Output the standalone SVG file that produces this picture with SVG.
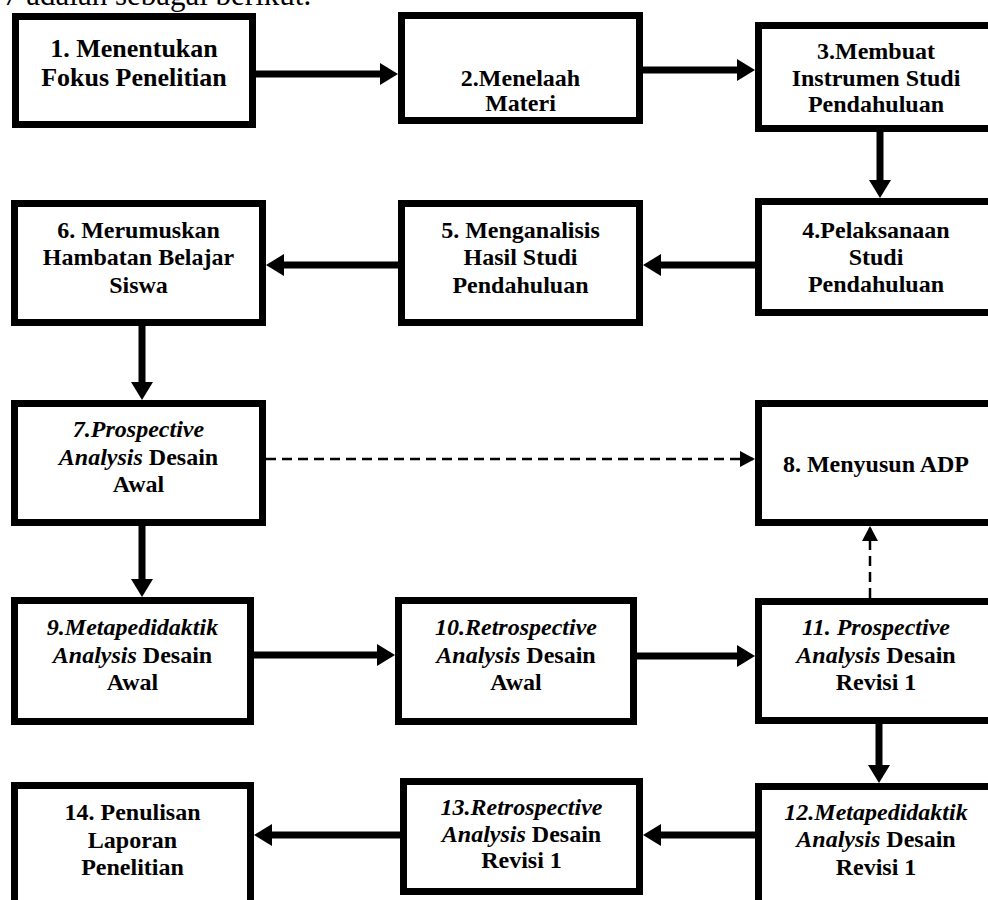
<svg xmlns="http://www.w3.org/2000/svg" width="988" height="900" viewBox="0 0 988 900">
<style>
.box{fill:#fff;stroke:#000;stroke-width:7}
.t{font-family:"Liberation Serif","Times New Roman",serif;font-weight:bold;font-size:24px;text-anchor:middle;fill:#000}
.big{font-size:26px}
.i{font-style:italic}
.body{font-family:"Liberation Serif","Times New Roman",serif;font-size:31px;fill:#000}
.c{fill:none;stroke:#000;stroke-width:7;marker-end:url(#ah)}
.d{fill:none;stroke:#000;stroke-width:2.5;stroke-dasharray:10 6;marker-end:url(#dh)}
</style>
<defs>
<marker id="ah" markerUnits="userSpaceOnUse" markerWidth="18" markerHeight="22" viewBox="0 0 18 22" refX="10" refY="11" orient="auto"><path d="M0,0 L18,11 L0,22 z" fill="#000"/></marker>
<marker id="dh" markerUnits="userSpaceOnUse" markerWidth="15" markerHeight="16" viewBox="0 0 15 16" refX="13" refY="8" orient="auto"><path d="M0,0 L15,8 L0,16 z" fill="#000"/></marker>
</defs>
<rect width="988" height="900" fill="#fff"/>
<text class="body" x="3" y="5">7 adalah sebagai berikut.</text>
<g id="connectors">
<path class="c" d="M256,74 H390"/>
<path class="c" d="M643,70 H747"/>
<path class="c" d="M880,132 V190"/>
<path class="c" d="M755,265 H651"/>
<path class="c" d="M398,265 H274"/>
<path class="c" d="M142,326 V392"/>
<path class="c" d="M142,526 V589"/>
<path class="c" d="M254,655 H387"/>
<path class="c" d="M637,656 H747"/>
<path class="c" d="M879,724 V775"/>
<path class="c" d="M755,835 H651"/>
<path class="c" d="M400,835 H262"/>
<path class="d" d="M266,459 H753"/>
<path class="d" d="M870,598 V528"/>
</g>
<g id="n1"><rect class="box" x="15.5" y="16.5" width="237" height="108"/>
<text class="t big" x="134" y="57">1. Menentukan</text><text class="t big" x="134" y="86">Fokus Penelitian</text></g>
<g id="n2"><rect class="box" x="401.5" y="15.5" width="238" height="105"/>
<text class="t" x="520.5" y="86">2.Menelaah</text><text class="t" x="520.5" y="111">Materi</text></g>
<g id="n3"><rect class="box" x="758.5" y="25.5" width="235" height="103"/>
<text class="t" x="876" y="59">3.Membuat</text><text class="t" x="876" y="86">Instrumen Studi</text><text class="t" x="876" y="112">Pendahuluan</text></g>
<g id="n4"><rect class="box" x="758.5" y="201.5" width="235" height="111"/>
<text class="t" x="876" y="238">4.Pelaksanaan</text><text class="t" x="876" y="265">Studi</text><text class="t" x="876" y="292">Pendahuluan</text></g>
<g id="n5"><rect class="box" x="401.5" y="203.5" width="238" height="119"/>
<text class="t" x="520.5" y="238">5. Menganalisis</text><text class="t" x="520.5" y="265">Hasil Studi</text><text class="t" x="520.5" y="293">Pendahuluan</text></g>
<g id="n6"><rect class="box" x="14.5" y="203.5" width="248" height="119"/>
<text class="t" x="138.5" y="238">6. Merumuskan</text><text class="t" x="138.5" y="265">Hambatan Belajar</text><text class="t" x="138.5" y="293">Siswa</text></g>
<g id="n7"><rect class="box" x="14.5" y="403.5" width="248" height="119"/>
<text class="t i" x="138.5" y="437">7.Prospective</text><text class="t" x="138.5" y="465"><tspan class="i">Analysis</tspan> Desain</text><text class="t" x="138.5" y="492">Awal</text></g>
<g id="n8"><rect class="box" x="758.5" y="403.5" width="235" height="119"/>
<text class="t" x="876" y="472">8. Menyusun ADP</text></g>
<g id="n9"><rect class="box" x="14.5" y="600.5" width="236" height="121"/>
<text class="t i" x="132.5" y="635">9.Metapedidaktik</text><text class="t" x="132.5" y="663"><tspan class="i">Analysis</tspan> Desain</text><text class="t" x="132.5" y="690">Awal</text></g>
<g id="n10"><rect class="box" x="398.5" y="600.5" width="235" height="121"/>
<text class="t i" x="516" y="635">10.Retrospective</text><text class="t" x="516" y="663"><tspan class="i">Analysis</tspan> Desain</text><text class="t" x="516" y="690">Awal</text></g>
<g id="n11"><rect class="box" x="758.5" y="601.5" width="235" height="119"/>
<text class="t i" x="876" y="635">11. Prospective</text><text class="t" x="876" y="663"><tspan class="i">Analysis</tspan> Desain</text><text class="t" x="876" y="690">Revisi 1</text></g>
<g id="n12"><rect class="box" x="758.5" y="786.5" width="235" height="140"/>
<text class="t i" x="876" y="820">12.Metapedidaktik</text><text class="t" x="876" y="847"><tspan class="i">Analysis</tspan> Desain</text><text class="t" x="876" y="875">Revisi 1</text></g>
<g id="n13"><rect class="box" x="403.5" y="781.5" width="236" height="110"/>
<text class="t i" x="521.5" y="815">13.Retrospective</text><text class="t" x="521.5" y="842"><tspan class="i">Analysis</tspan> Desain</text><text class="t" x="521.5" y="868">Revisi 1</text></g>
<g id="n14"><rect class="box" x="14.5" y="785.5" width="236" height="140"/>
<text class="t" x="132.5" y="820">14. Penulisan</text><text class="t" x="132.5" y="848">Laporan</text><text class="t" x="132.5" y="875">Penelitian</text></g>
</svg>
